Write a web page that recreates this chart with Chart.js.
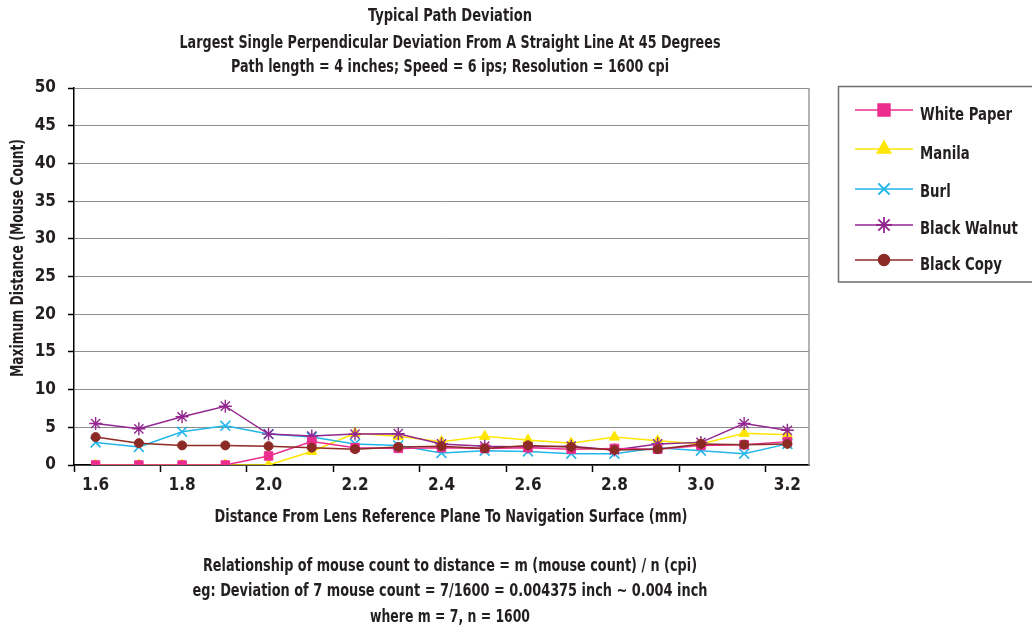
<!DOCTYPE html>
<html>
<head>
<meta charset="utf-8">
<script src="https://cdn.jsdelivr.net/npm/chart.js"></script>
<style>
html,body{margin:0;padding:0;background:#fff;}
#wrap{width:1032px;height:632px;position:relative;}
</style>
</head>
<body>
<div id="wrap"><canvas id="c" width="1032" height="632"></canvas></div>
<script>
const categories = ['1.6','1.7','1.8','1.9','2.0','2.1','2.2','2.3','2.4','2.5','2.6','2.7','2.8','2.9','3.0','3.1','3.2'];
const whitePaper  = [0,0,0,0,1.2,3.1,2.3,2.2,2.3,2.2,2.3,2.1,2.2,2.1,2.6,2.7,3.1];
const manila      = [0,0,0,0,0,1.8,4.2,3.8,3.1,3.8,3.3,2.9,3.7,3.2,2.8,4.2,4.0];
const burl        = [3.0,2.4,4.4,5.2,4.1,3.7,2.8,2.6,1.6,1.9,1.8,1.5,1.5,2.3,1.9,1.5,2.8];
const blackWalnut = [5.5,4.8,6.4,7.8,4.1,3.85,4.1,4.15,2.8,2.5,2.4,2.5,2.0,2.8,3.0,5.5,4.6];
const blackCopy   = [3.7,2.9,2.6,2.6,2.5,2.3,2.1,2.4,2.5,2.2,2.6,2.4,2.0,2.1,2.8,2.7,2.8];
const seriesNames = ['White Paper','Manila','Burl','Black Walnut','Black Copy'];
const yTicks = {min: 0, max: 50, step: 5};

const titleLines = [
  'Typical Path Deviation',
  'Largest Single Perpendicular Deviation From A Straight Line At 45 Degrees',
  'Path length = 4 inches; Speed = 6 ips; Resolution = 1600 cpi'
];
const xTitle = 'Distance From Lens Reference Plane To Navigation Surface (mm)';
const yTitle = 'Maximum Distance (Mouse Count)';
const noteLines = [
  'Relationship of mouse count to distance = m (mouse count) / n (cpi)',
  'eg: Deviation of 7 mouse count = 7/1600 = 0.004375 inch ~ 0.004 inch',
  'where m = 7, n = 1600'
];

const FONT = "'Liberation Sans Narrow', 'DejaVu Sans Condensed', 'Liberation Sans', sans-serif";
const TXT = '#231f20';

const styles = [
  {color:'#ec2d8e', pointStyle:'rect',     radius:6,   legendRadius:8.5, order:1, bw:1},
  {color:'#ffe600', pointStyle:'triangle', radius:6,   legendRadius:8,   order:4, bw:1},
  {color:'#22b6e9', pointStyle:'crossRot', radius:7,   legendRadius:8,   order:3, bw:1.6},
  {color:'#93278f', pointStyle:'star',     radius:6.5, legendRadius:8,   order:2, bw:1.4},
  {color:'#8c2b25', pointStyle:'circle',   radius:4.5, legendRadius:5.5, order:0, bw:1}
];
const seriesData = [whitePaper, manila, burl, blackWalnut, blackCopy];

const datasets = seriesNames.map((name, i) => ({
  label: name,
  data: seriesData[i],
  borderColor: styles[i].color,
  backgroundColor: styles[i].color,
  pointBackgroundColor: styles[i].color,
  pointBorderColor: styles[i].color,
  pointStyle: styles[i].pointStyle,
  pointRadius: styles[i].radius,
  pointBorderWidth: styles[i].bw,
  borderWidth: 1.5,
  tension: 0,
  fill: false,
  order: styles[i].order
}));

// draw bold condensed-looking text, squeezed horizontally to a given width
function drawFit(ctx, text, cx, cy, size, width, align) {
  ctx.save();
  ctx.font = 'bold ' + size + 'px ' + FONT;
  ctx.fillStyle = TXT;
  ctx.textBaseline = 'middle';
  const w = ctx.measureText(text).width;
  const s = width ? width / w : 1;
  ctx.translate(cx, cy);
  ctx.scale(s, 1);
  ctx.textAlign = align || 'center';
  ctx.fillText(text, 0, 0);
  ctx.restore();
}

const textPlugin = {
  id: 'textPlugin',
  afterDraw(chart) {
    const ctx = chart.ctx;
    const tY = [17, 44, 68];
    const tW = [164, 541, 438];
    titleLines.forEach((t, i) => drawFit(ctx, t, 450, tY[i], 17, tW[i]));
    drawFit(ctx, xTitle, 451, 518, 17, 473);
    const nY = [567, 592, 618];
    const nW = [494, 515, 160];
    noteLines.forEach((t, i) => drawFit(ctx, t, 450, nY[i], 17, nW[i]));
    ctx.save();
    ctx.translate(19, 258);
    ctx.rotate(-Math.PI / 2);
    drawFit(ctx, yTitle, 0, 0, 17, 238);
    ctx.restore();
  }
};

const borderPlugin = {
  id: 'borderPlugin',
  beforeDatasetsDraw(chart) {
    const {ctx, chartArea} = chart;
    ctx.save();
    ctx.strokeStyle = '#9a9a9a';
    ctx.lineWidth = 1.5;
    ctx.beginPath();
    ctx.moveTo(chartArea.right, chartArea.top);
    ctx.lineTo(chartArea.right, chartArea.bottom);
    ctx.stroke();
    ctx.restore();
  }
};

const legendPlugin = {
  id: 'boxLegend',
  afterDraw(chart) {
    const ctx = chart.ctx;
    ctx.save();
    ctx.strokeStyle = '#6e6e6e';
    ctx.lineWidth = 1.5;
    ctx.strokeRect(838.5, 86.5, 200, 195.5);
    const lineY = [110, 149, 189, 225, 260];
    const textY = [115, 154, 192, 229, 265];
    chart.data.datasets.forEach((ds, i) => {
      const st = styles[i];
      ctx.strokeStyle = st.color;
      ctx.fillStyle = st.color;
      ctx.lineWidth = 1.5;
      ctx.beginPath();
      ctx.moveTo(855, lineY[i]);
      ctx.lineTo(913, lineY[i]);
      ctx.stroke();
      ctx.lineWidth = st.bw + 0.4;
      if (Chart.helpers && Chart.helpers.drawPoint) {
        Chart.helpers.drawPoint(ctx, {pointStyle: st.pointStyle, radius: st.legendRadius, rotation: 0, borderWidth: st.bw + 0.4}, 884, lineY[i]);
      }
      ctx.save();
      ctx.font = 'bold 18px ' + FONT;
      ctx.fillStyle = TXT;
      ctx.textAlign = 'left';
      ctx.textBaseline = 'middle';
      ctx.translate(920, textY[i]);
      ctx.scale(0.82, 1);
      ctx.fillText(ds.label, 0, 0);
      ctx.restore();
    });
    ctx.restore();
  }
};

new Chart(document.getElementById('c'), {
  type: 'line',
  data: { labels: categories, datasets: datasets },
  plugins: [borderPlugin, textPlugin, legendPlugin],
  options: {
    responsive: false,
    animation: false,
    devicePixelRatio: 1,
    layout: { padding: { top: 88, right: 223, bottom: 104, left: 0 } },
    plugins: {
      legend: { display: false },
      title: { display: false },
      tooltip: { enabled: false }
    },
    scales: {
      x: {
        type: 'category',
        offset: true,
        afterFit(s) { s.height = 63; },
        grid: {
          offset: true,
          drawOnChartArea: false,
          drawTicks: true,
          tickLength: 7,
          tickWidth: 1.5,
          tickColor: (c) => (c.index !== undefined && c.index % 2 === 0) ? '#000' : 'rgba(0,0,0,0)'
        },
        border: { color: '#000', width: 1.5 },
        ticks: {
          autoSkip: false,
          maxRotation: 0,
          padding: 3,
          color: TXT,
          font: { family: FONT, size: 17, weight: 'bold' },
          callback: (v, i) => (i % 2 === 0 ? categories[i] : '')
        }
      },
      y: {
        min: yTicks.min,
        max: yTicks.max,
        afterFit(s) { s.width = 74; },
        grid: {
          color: '#8f8f8f',
          lineWidth: 1,
          drawTicks: true,
          tickLength: 6,
          tickColor: '#000',
          tickWidth: 1.5
        },
        border: { color: '#000', width: 1.5 },
        ticks: {
          stepSize: yTicks.step,
          padding: 12,
          color: TXT,
          font: { family: FONT, size: 17, weight: 'bold' }
        }
      }
    }
  }
});
</script>
</body>
</html>
